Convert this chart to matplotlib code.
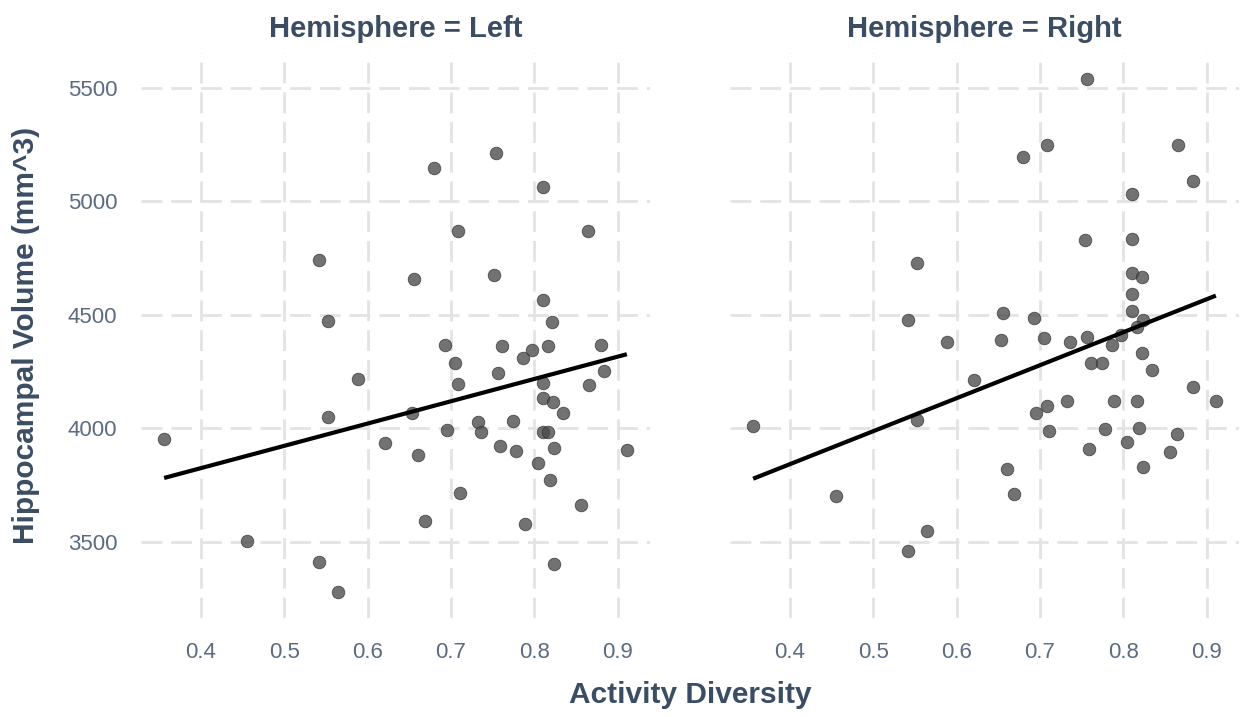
"""Hippocampal volume vs. activity diversity, one panel per hemisphere."""

import matplotlib

matplotlib.use("Agg")
import matplotlib.pyplot as plt
import numpy as np

plt.rcParams["font.family"] = ["Liberation Sans", "DejaVu Sans"]

# Values.
left_x = [
    0.356, 0.455, 0.542, 0.564, 0.553, 0.589, 0.621, 0.542, 0.553, 0.680,
    0.754, 0.811, 0.709, 0.864, 0.656, 0.752, 0.811, 0.821, 0.693, 0.761,
    0.797, 0.787, 0.817, 0.880, 0.705, 0.757, 0.883, 0.709, 0.811, 0.866,
    0.811, 0.823, 0.835, 0.653, 0.695, 0.733, 0.736, 0.774, 0.810, 0.816,
    0.660, 0.759, 0.778, 0.824, 0.911, 0.805, 0.819, 0.711, 0.856, 0.669,
    0.789, 0.824,
]
left_y = [
    3952, 3504, 3409, 3277, 4050, 4216, 3935, 4742, 4472, 5146,
    5212, 5061, 4867, 4867, 4657, 4673, 4563, 4467, 4368, 4361,
    4343, 4309, 4361, 4365, 4289, 4241, 4251, 4194, 4197, 4189,
    4133, 4117, 4066, 4065, 3994, 4025, 3981, 4031, 3981, 3981,
    3880, 3921, 3899, 3912, 3902, 3846, 3771, 3715, 3661, 3592,
    3576, 3400,
]
right_x = [
    0.356, 0.455, 0.553, 0.564, 0.542, 0.621, 0.553, 0.542, 0.589, 0.757,
    0.709, 0.680, 0.866, 0.883, 0.811, 0.754, 0.811, 0.811, 0.823, 0.811,
    0.811, 0.656, 0.693, 0.824, 0.817, 0.653, 0.705, 0.736, 0.757, 0.797,
    0.787, 0.823, 0.761, 0.774, 0.835, 0.883, 0.911, 0.709, 0.695, 0.733,
    0.789, 0.816, 0.711, 0.778, 0.819, 0.864, 0.759, 0.805, 0.856, 0.824,
    0.660, 0.669,
]
right_y = [
    4010, 3701, 4035, 3548, 3460, 4211, 4727, 4475, 4378, 5539,
    5245, 5196, 5245, 5087, 5033, 4830, 4832, 4683, 4666, 4590,
    4516, 4505, 4487, 4478, 4446, 4390, 4395, 4380, 4402, 4412,
    4368, 4329, 4285, 4287, 4255, 4182, 4119, 4097, 4065, 4120,
    4120, 4120, 3988, 3996, 3999, 3974, 3909, 3937, 3893, 3827,
    3820, 3710,
]
# Fitted lines as drawn in the reference (model fit, not plain OLS on the dots):
# (intercept, slope) per hemisphere.
left_fit = (3431, 982)
right_fit = (3260, 1453)
panels = [
    ("Left", left_x, left_y, left_fit),
    ("Right", right_x, right_y, right_fit),
]
x_ticks = [0.4, 0.5, 0.6, 0.7, 0.8, 0.9]
y_ticks = [3500, 4000, 4500, 5000, 5500]

_TITLE = "#3b4d63"
_TICK = "#5b6b80"
_GRID = "#e3e3e3"

W, H = 1246, 717
fig = plt.figure(figsize=(W / 100, H / 100), dpi=100, facecolor="white")

all_x = left_x + right_x
all_y = left_y + right_y
x_pad = 0.05 * (max(all_x) - min(all_x))
y_pad = 0.05 * (max(all_y) - min(all_y))

for i, (side, xs, ys, (icpt, slope)) in enumerate(panels):
    left_px = 141 if i == 0 else 730
    ax = fig.add_axes([left_px / W, 99 / H, 509 / W, 565 / H])
    ax.set_facecolor("white")
    ax.scatter(xs, ys, s=82, color="#4a4a4a", alpha=0.78,
               edgecolors="#333333", linewidths=0.6, zorder=3)
    fx = np.array([min(xs), max(xs)])
    ax.plot(fx, icpt + slope * fx, color="black", linewidth=3.0, zorder=4,
            solid_capstyle="butt")

    ax.set_xlim(min(all_x) - x_pad, max(all_x) + x_pad)
    ax.set_ylim(min(all_y) - y_pad, max(all_y) + y_pad)
    ax.set_xticks(x_ticks)
    ax.set_xticklabels([f"{t:g}" for t in x_ticks])
    ax.set_yticks(y_ticks)
    if i == 0:
        ax.set_yticklabels([str(t) for t in y_ticks])
    else:
        ax.set_yticklabels([])
    ax.grid(True, color=_GRID, linewidth=2.0, linestyle=(0, (7.5, 3.2)))
    ax.set_axisbelow(True)
    for sp in ax.spines.values():
        sp.set_visible(False)
    ax.tick_params(length=0, colors=_TICK, labelsize=16, pad=17)

    cx = (left_px + 509 / 2) / W
    fig.text(cx, 1 - 36.7 / H, f"Hemisphere = {side}", ha="center",
             va="baseline", fontsize=21, fontweight="bold", color=_TITLE)

fig.text(26 / W, 1 - 335 / H, "Hippocampal Volume (mm^3)", rotation=90,
         ha="center", va="center", fontsize=21.5, fontweight="bold",
         color=_TITLE)
fig.text(690 / W, 1 - 695 / H, "Activity Diversity", ha="center",
         va="center", fontsize=21.5, fontweight="bold", color=_TITLE)

fig.savefig("out.png", dpi=100, facecolor="white")
